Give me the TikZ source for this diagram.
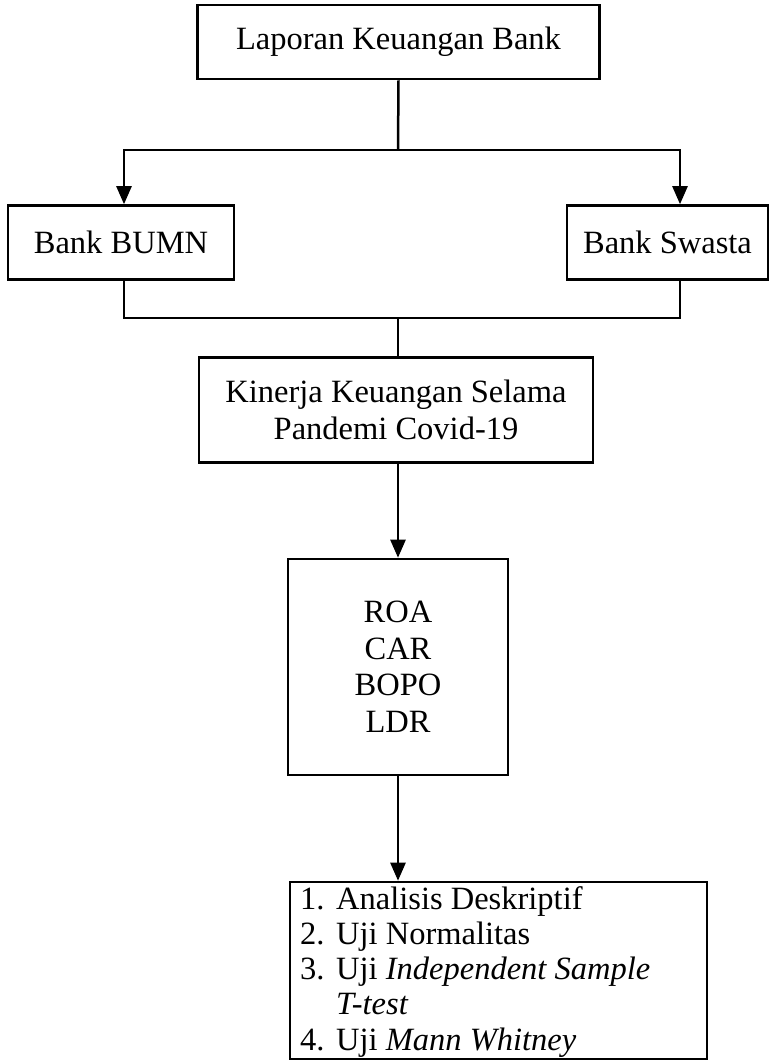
\documentclass[tikz,border=0pt]{standalone}
\usepackage{fontspec}
\setmainfont{Liberation Serif}
\usetikzlibrary{arrows.meta}

\begin{document}
\begin{tikzpicture}[
    x=1pt, y=-1pt,
    >={Triangle[length=18pt, width=15pt]},
    every node/.style={font=\fontsize{32.5}{36.5}\selectfont},
    kotak/.style={draw=black, line width=2.6pt, inner sep=0pt, align=center},
    garis/.style={line width=2.5pt}
]
\useasboundingbox (0,0) rectangle (771,1061);
% x-positions
\def\xc{398}   \def\xL{124}  \def\xR{680}
% y-positions of the junctions
\def\yA{150}   \def\yB{318}
% Boxes
\node[kotak, minimum width=402pt, minimum height=74pt] (lap) at (398.5, 42) {Laporan Keuangan Bank};
\node[kotak, minimum width=226pt, minimum height=74pt] (bumn) at (121, 242.5) {Bank BUMN};
\node[kotak, minimum width=201pt, minimum height=74pt] (swasta) at (667.5, 242.5) {Bank Swasta};
\node[kotak, minimum width=394pt, minimum height=105pt] (kinerja) at (396, 410) {Kinerja Keuangan Selama\\Pandemi Covid-19};
\node[kotak, minimum width=220pt, minimum height=216pt] (rasio) at (398, 667) {ROA\\CAR\\BOPO\\LDR};
\node[kotak, minimum width=417pt, minimum height=177pt] (uji) at (498.5, 970.5) {};
\node[anchor=north west, align=left, inner sep=0pt,
      font=\fontsize{32.5}{35.3}\selectfont] (daftar) at (300, 886)
    {\makebox[36pt][l]{1.}Analisis Deskriptif\\
     \makebox[36pt][l]{2.}Uji Normalitas\\
     \makebox[36pt][l]{3.}Uji \textit{Independent Sample}\\
     \hspace*{36pt}\textit{T-test}\\
     \makebox[36pt][l]{4.}Uji \textit{Mann Whitney}};
% Junction points
\coordinate (atas) at (\xc, \yA);
\coordinate (kiri) at (\xL, \yA);
\coordinate (kanan) at (\xR, \yA);
\coordinate (bawah) at (\xc, \yB);
% Top split
\draw[garis] (lap.south) -- (atas);
\draw[garis, ->] (atas) -| (bumn.north -| kiri);
\draw[garis, ->] (atas) -| (swasta.north -| kanan);
% Merge below the banks
\draw[garis] (bumn.south -| kiri) |- (bawah) -| (swasta.south -| kanan);
\draw[garis] (bawah) -- (bawah |- kinerja.north);
% Down the chain
\draw[garis, ->] (kinerja.south -| rasio.north) -- (rasio.north);
\draw[garis, ->] (rasio.south) -- (rasio.south |- uji.north);
\end{tikzpicture}
\end{document}
